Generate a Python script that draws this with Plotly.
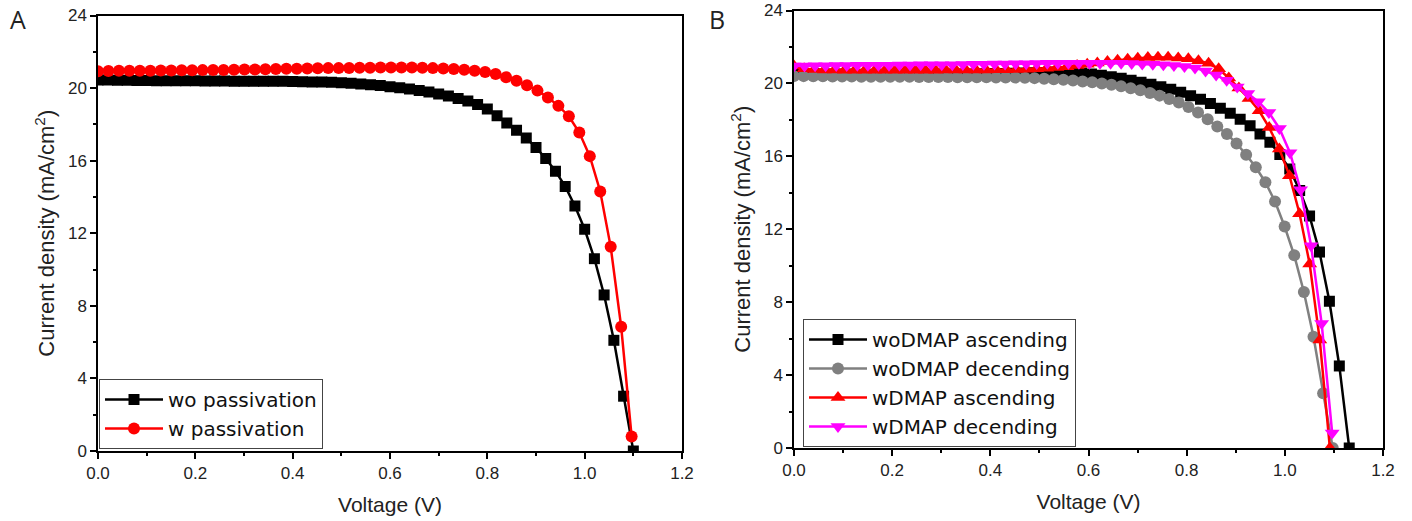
import plotly.graph_objects as go

# ---------------- Panel A data ----------------
v_wo_pass = [0.00, 0.02, 0.04, 0.06, 0.08, 0.10, 0.12, 0.14, 0.16, 0.18,
             0.20, 0.22, 0.24, 0.26, 0.28, 0.30, 0.32, 0.34, 0.36, 0.38,
             0.40, 0.42, 0.44, 0.46, 0.48, 0.50, 0.52, 0.54, 0.56, 0.58,
             0.60, 0.62, 0.64, 0.66, 0.68, 0.70, 0.72, 0.74, 0.76, 0.78,
             0.80, 0.82, 0.84, 0.86, 0.88, 0.90, 0.92, 0.94, 0.96, 0.98,
             1.00, 1.02, 1.04, 1.06, 1.08, 1.10]
j_wo_pass = [20.45, 20.44, 20.43, 20.43, 20.42, 20.42, 20.41, 20.41, 20.40, 20.40,
             20.40, 20.39, 20.39, 20.39, 20.38, 20.38, 20.38, 20.38, 20.37, 20.37,
             20.36, 20.35, 20.34, 20.33, 20.32, 20.30, 20.27, 20.23, 20.19, 20.14,
             20.08, 20.02, 19.95, 19.87, 19.78, 19.68, 19.56, 19.43, 19.29, 19.10,
             18.85, 18.47, 18.07, 17.67, 17.25, 16.72, 16.12, 15.42, 14.58, 13.50,
             12.22, 10.60, 8.60, 6.10, 3.02, 0.00]

v_w_pass = [0.0000, 0.0215, 0.0430, 0.0645, 0.0860, 0.1075, 0.1290, 0.1505, 0.1720, 0.1935,
            0.2150, 0.2365, 0.2580, 0.2795, 0.3010, 0.3225, 0.3440, 0.3655, 0.3870, 0.4085,
            0.4300, 0.4515, 0.4730, 0.4945, 0.5160, 0.5375, 0.5590, 0.5805, 0.6020, 0.6235,
            0.6450, 0.6665, 0.6880, 0.7095, 0.7310, 0.7525, 0.7740, 0.7955, 0.8170, 0.8385,
            0.8600, 0.8815, 0.9030, 0.9245, 0.9460, 0.9675, 0.9890, 1.0105, 1.0320, 1.0535,
            1.0750, 1.0965]
j_w_pass = [20.93, 20.94, 20.95, 20.95, 20.96, 20.96, 20.97, 20.97, 20.98, 20.98,
            20.99, 21.00, 21.00, 21.01, 21.02, 21.03, 21.04, 21.05, 21.06, 21.07,
            21.08, 21.09, 21.10, 21.10, 21.11, 21.12, 21.12, 21.13, 21.13, 21.13,
            21.13, 21.12, 21.10, 21.08, 21.05, 21.01, 20.96, 20.89, 20.78, 20.60,
            20.40, 20.16, 19.86, 19.48, 19.02, 18.45, 17.55, 16.25, 14.30, 11.25,
            6.85, 0.80]

# ---------------- Panel B data ----------------
v_wo_asc = [0.0000, 0.0202, 0.0404, 0.0606, 0.0808, 0.1010, 0.1212, 0.1414, 0.1616, 0.1818,
            0.2020, 0.2222, 0.2424, 0.2626, 0.2828, 0.3030, 0.3232, 0.3434, 0.3636, 0.3838,
            0.4040, 0.4242, 0.4444, 0.4646, 0.4848, 0.5050, 0.5252, 0.5454, 0.5656, 0.5858,
            0.6060, 0.6262, 0.6464, 0.6666, 0.6868, 0.7070, 0.7272, 0.7474, 0.7676, 0.7878,
            0.8080, 0.8282, 0.8484, 0.8686, 0.8888, 0.9090, 0.9292, 0.9494, 0.9696, 0.9898,
            1.0100, 1.0302, 1.0504, 1.0706, 1.0908, 1.1110, 1.1312]
j_wo_asc = [20.55, 20.54, 20.53, 20.52, 20.52, 20.51, 20.51, 20.50, 20.50, 20.50,
            20.50, 20.50, 20.50, 20.50, 20.50, 20.51, 20.51, 20.52, 20.52, 20.53,
            20.54, 20.55, 20.56, 20.57, 20.59, 20.60, 20.62, 20.62, 20.60, 20.57,
            20.52, 20.45, 20.37, 20.28, 20.18, 20.07, 19.95, 19.82, 19.68, 19.52,
            19.33, 19.13, 18.90, 18.64, 18.37, 18.04, 17.68, 17.22, 16.77, 16.10,
            15.30, 14.12, 12.72, 10.75, 8.05, 4.50, 0.00]

v_wo_desc = [0.0000, 0.0196, 0.0392, 0.0588, 0.0784, 0.0980, 0.1176, 0.1372, 0.1568, 0.1764,
             0.1960, 0.2156, 0.2352, 0.2548, 0.2744, 0.2940, 0.3136, 0.3332, 0.3528, 0.3724,
             0.3920, 0.4116, 0.4312, 0.4508, 0.4704, 0.4900, 0.5096, 0.5292, 0.5488, 0.5684,
             0.5880, 0.6076, 0.6272, 0.6468, 0.6664, 0.6860, 0.7056, 0.7252, 0.7448, 0.7644,
             0.7840, 0.8036, 0.8232, 0.8428, 0.8624, 0.8820, 0.9016, 0.9212, 0.9408, 0.9604,
             0.9800, 0.9996, 1.0192, 1.0388, 1.0584, 1.0780, 1.0976]
j_wo_desc = [20.40, 20.40, 20.39, 20.39, 20.38, 20.38, 20.38, 20.37, 20.37, 20.37,
             20.36, 20.36, 20.36, 20.35, 20.35, 20.35, 20.35, 20.34, 20.34, 20.34,
             20.34, 20.33, 20.33, 20.32, 20.31, 20.29, 20.26, 20.23, 20.20, 20.16,
             20.11, 20.06, 20.00, 19.93, 19.84, 19.74, 19.62, 19.48, 19.33, 19.15,
             18.95, 18.70, 18.40, 18.04, 17.64, 17.22, 16.71, 16.09, 15.40, 14.58,
             13.52, 12.15, 10.57, 8.56, 6.10, 3.00, 0.00]

v_w_asc = [0.0000, 0.0206, 0.0412, 0.0618, 0.0824, 0.1030, 0.1236, 0.1442, 0.1648, 0.1854,
           0.2060, 0.2266, 0.2472, 0.2678, 0.2884, 0.3090, 0.3296, 0.3502, 0.3708, 0.3914,
           0.4120, 0.4326, 0.4532, 0.4738, 0.4944, 0.5150, 0.5356, 0.5562, 0.5768, 0.5974,
           0.6180, 0.6386, 0.6592, 0.6798, 0.7004, 0.7210, 0.7416, 0.7622, 0.7828, 0.8034,
           0.8240, 0.8446, 0.8652, 0.8858, 0.9064, 0.9270, 0.9476, 0.9682, 0.9888, 1.0094,
           1.0300, 1.0506, 1.0712, 1.0918]
j_w_asc = [20.95, 20.80, 20.76, 20.74, 20.73, 20.72, 20.72, 20.72, 20.72, 20.72,
           20.72, 20.72, 20.72, 20.72, 20.72, 20.73, 20.73, 20.73, 20.74, 20.74,
           20.75, 20.75, 20.76, 20.78, 20.80, 20.83, 20.87, 20.92, 20.98, 21.05,
           21.12, 21.20, 21.27, 21.33, 21.38, 21.42, 21.44, 21.43, 21.40, 21.35,
           21.25, 21.10, 20.80, 20.30, 19.75, 19.17, 18.50, 17.58, 16.40, 14.94,
           12.85, 10.10, 5.92, 0.00]

v_w_desc = [0.0000, 0.0215, 0.0430, 0.0645, 0.0860, 0.1075, 0.1290, 0.1505, 0.1720, 0.1935,
            0.2150, 0.2365, 0.2580, 0.2795, 0.3010, 0.3225, 0.3440, 0.3655, 0.3870, 0.4085,
            0.4300, 0.4515, 0.4730, 0.4945, 0.5160, 0.5375, 0.5590, 0.5805, 0.6020, 0.6235,
            0.6450, 0.6665, 0.6880, 0.7095, 0.7310, 0.7525, 0.7740, 0.7955, 0.8170, 0.8385,
            0.8600, 0.8815, 0.9030, 0.9245, 0.9460, 0.9675, 0.9890, 1.0105, 1.0320, 1.0535,
            1.0750, 1.0965]
j_w_desc = [20.95, 20.96, 20.97, 20.97, 20.98, 20.98, 20.99, 20.99, 21.00, 21.00,
            21.01, 21.01, 21.02, 21.02, 21.03, 21.03, 21.04, 21.05, 21.05, 21.06,
            21.07, 21.08, 21.08, 21.09, 21.10, 21.10, 21.11, 21.11, 21.11, 21.11,
            21.11, 21.10, 21.09, 21.07, 21.05, 21.02, 20.98, 20.93, 20.85, 20.68,
            20.46, 20.17, 19.80, 19.44, 19.00, 18.40, 17.53, 16.20, 14.17, 11.10,
            6.83, 0.82]

FONT = "Liberation Sans, Arial, sans-serif"

fig = go.Figure()

def add(x, y, name, color, symbol, size, xa, ya, legend):
    fig.add_trace(go.Scatter(
        x=x, y=y, name=name, mode="lines+markers",
        line=dict(color=color, width=2.5),
        marker=dict(color=color, symbol=symbol, size=size),
        xaxis=xa, yaxis=ya, legend=legend))

add(v_wo_pass, j_wo_pass, "wo passivation", "#000000", "square", 11, "x", "y", "legend")
add(v_w_pass, j_w_pass, "w passivation", "#ff0000", "circle", 12, "x", "y", "legend")

add(v_wo_asc, j_wo_asc, "woDMAP ascending", "#000000", "square", 11, "x2", "y2", "legend2")
add(v_wo_desc, j_wo_desc, "woDMAP decending", "#808080", "circle", 12, "x2", "y2", "legend2")
add(v_w_asc, j_w_asc, "wDMAP ascending", "#ff0000", "triangle-up", 13, "x2", "y2", "legend2")
add(v_w_desc, j_w_desc, "wDMAP decending", "#ff00ff", "triangle-down", 13, "x2", "y2", "legend2")

W, H = 1412, 521

def xax(dom):
    return dict(domain=dom, range=[0, 1.2], dtick=0.2, tick0=0, tickformat=".1f",
                ticks="outside", ticklen=6, tickwidth=1.5, tickcolor="#000",
                showline=True, linecolor="#000", linewidth=1.5, mirror=True,
                showgrid=False, zeroline=False, automargin=False,
                minor=dict(dtick=0.1, ticks="outside", ticklen=3, tickwidth=1.5, tickcolor="#000"),
                tickfont=dict(family=FONT, size=17, color="#222"),
                title=dict(text="Voltage (V)", font=dict(family=FONT, size=21, color="#222"),
                           standoff=15))

def yax(dom, anchor):
    return dict(domain=dom, range=[0, 24], dtick=4, tick0=0, anchor=anchor,
                ticks="outside", ticklen=6, tickwidth=1.5, tickcolor="#000",
                showline=True, linecolor="#000", linewidth=1.5, mirror=True,
                showgrid=False, zeroline=False, automargin=False,
                minor=dict(dtick=2, ticks="outside", ticklen=3, tickwidth=1.5, tickcolor="#000"),
                tickfont=dict(family=FONT, size=17, color="#222"),
                title=dict(text="Current density (mA/cm<sup>2</sup>)",
                           font=dict(family=FONT, size=22, color="#222"), standoff=7))

LEGFONT = dict(family="DejaVu Sans, sans-serif", size=20, color="#111")

fig.update_layout(
    width=W, height=H,
    margin=dict(l=0, r=0, t=0, b=0),
    paper_bgcolor="white", plot_bgcolor="white",
    font=dict(family=FONT, color="#222"),
    xaxis=dict(**xax([98 / W, 682 / W]), anchor="y"),
    yaxis=yax([(H - 451) / H, (H - 15.5) / H], "x"),
    xaxis2=dict(**xax([794 / W, 1383 / W]), anchor="y2"),
    yaxis2=yax([(H - 448) / H, (H - 10.5) / H], "x2"),
    legend=dict(x=99 / W, y=(H - 449) / H, xanchor="left", yanchor="bottom",
                bgcolor="white", bordercolor="#444", borderwidth=1,
                font=LEGFONT, tracegroupgap=0, itemwidth=58),
    legend2=dict(x=803 / W, y=(H - 447) / H, xanchor="left", yanchor="bottom",
                 bgcolor="white", bordercolor="#444", borderwidth=1,
                 font=LEGFONT, tracegroupgap=0, itemwidth=58),
    showlegend=True,
    annotations=[
        dict(text="A", x=8 / W, y=(H - 19) / H, xref="paper", yref="paper",
             xanchor="left", yanchor="middle", showarrow=False,
             font=dict(family="Open Sans, sans-serif", size=25, color="#222")),
        dict(text="B", x=707 / W, y=(H - 19) / H, xref="paper", yref="paper",
             xanchor="left", yanchor="middle", showarrow=False,
             font=dict(family="Open Sans, sans-serif", size=25, color="#222")),
    ],
)

fig.write_html("out.html", config={"displayModeBar": False},
               post_script="document.body.style.margin='0';document.body.style.overflow='hidden';")
